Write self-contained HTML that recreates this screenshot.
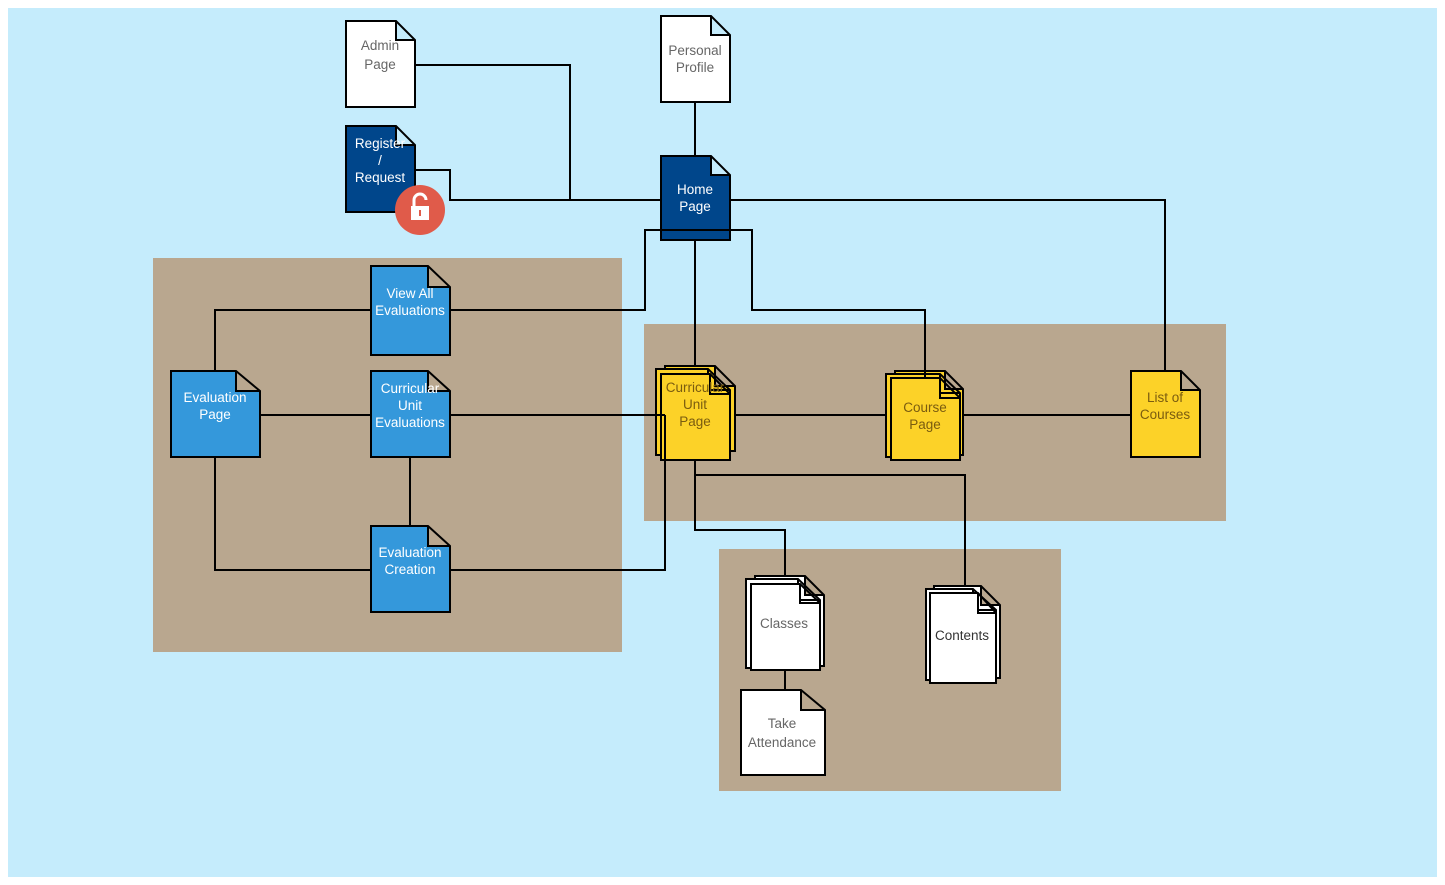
<!DOCTYPE html>
<html><head><style>body{margin:0;background:#fff}svg{display:block}text{font-family:"Liberation Sans",sans-serif;font-size:13.5px;text-anchor:middle}</style></head>
<body>
<svg width="1445" height="885" viewBox="0 0 1445 885" xmlns="http://www.w3.org/2000/svg">
<rect x="8" y="8" width="1429" height="869" fill="#c5ecfc"/>
<rect x="153" y="258" width="469" height="394" fill="#b9a78f"/>
<rect x="644" y="324" width="582" height="197" fill="#b9a78f"/>
<rect x="719" y="549" width="342" height="242" fill="#b9a78f"/>
<g fill="none" stroke="#000" stroke-width="2">
<polyline points="415,65 570,65 570,200"/>
<polyline points="415,170 450,170 450,200 661,200"/>
<line x1="695" y1="100" x2="695" y2="156"/>
<polyline points="730,200 1165,200 1165,371"/>
<polyline points="645,230 645,310 450,310"/>
<polyline points="752,230 752,310 925,310 925,371"/>
<line x1="695" y1="240" x2="695" y2="366"/>
<polyline points="371,310 215,310 215,371"/>
<line x1="260" y1="415" x2="371" y2="415"/>
<line x1="450" y1="415" x2="665" y2="415"/>
<line x1="730" y1="415" x2="886" y2="415"/>
<line x1="960" y1="415" x2="1131" y2="415"/>
<line x1="410" y1="457" x2="410" y2="526"/>
<polyline points="215,457 215,570 371,570"/>
<polyline points="450,570 665,570 665,415"/>
<polyline points="695,460 695,530 785,530 785,576"/>
<polyline points="695,475 965,475 965,587"/>
<line x1="785" y1="670" x2="785" y2="690"/>
</g>
<g stroke="#000" stroke-width="2">
<path d="M346,21H396L415,40V107H346Z M396,21V40H415" fill="#fff"/>
<path d="M661,16H711L730,35V102H661Z M711,16V35H730" fill="#fff"/>
<path d="M346,126H396L415,145V212H346Z M396,126V145H415" fill="#00468b"/>
<path d="M661,156H711L730,175V240H661Z M711,156V175H730" fill="#00468b"/>
<path d="M371,266H428L450,287V355H371Z M428,266V287H450" fill="#3498db"/>
<path d="M171,371H236L260,391V457H171Z M236,371V391H260" fill="#3498db"/>
<path d="M371,371H428L450,391V457H371Z M428,371V391H450" fill="#3498db"/>
<path d="M371,526H428L450,546V612H371Z M428,526V546H450" fill="#3498db"/>
<path d="M665,366H715L735,386V451H665Z M715,366V386H735" fill="#fcd228"/>
<path d="M656,369H708L730,390V455H656Z M708,369V390H730" fill="#fcd228"/>
<path d="M661,374H710L730,394V460H661Z M710,374V394H730" fill="#fcd228"/>
<path d="M895,371H945L963,389V455H895Z M945,371V389H963" fill="#fcd228"/>
<path d="M886,374H940L960,393V457H886Z M940,374V393H960" fill="#fcd228"/>
<path d="M891,378H940L960,398V460H891Z M940,378V398H960" fill="#fcd228"/>
<path d="M1131,371H1181L1200,390V457H1131Z M1181,371V390H1200" fill="#fcd228"/>
<path d="M755,576H805L824,595V666H755Z M805,576V595H824" fill="#fff"/>
<path d="M746,579H798L820,600V668H746Z M798,579V600H820" fill="#fff"/>
<path d="M751,584H800L820,603V670H751Z M800,584V603H820" fill="#fff"/>
<path d="M934,586H981L1000,605V678H934Z M981,586V605H1000" fill="#fff"/>
<path d="M926,589H973L996,610V680H926Z M973,589V610H996" fill="#fff"/>
<path d="M930,593H978L996,613V683H930Z M978,593V613H996" fill="#fff"/>
<path d="M741,690H801L825,710V775H741Z M801,690V710H825" fill="#fff"/>
</g>
<g fill="none" stroke="#000" stroke-width="2">
<line x1="644" y1="230" x2="753" y2="230"/>
<line x1="656" y1="415" x2="665" y2="415"/>
<line x1="665" y1="415" x2="665" y2="460"/>
<line x1="695" y1="460" x2="695" y2="475"/>
<line x1="925" y1="371" x2="925" y2="378"/>
</g>
<circle cx="420" cy="210" r="25" fill="#e05b4a"/>
<rect x="411" y="206" width="18" height="14" fill="#fff"/>
<path d="M414,206V200a6,6 0 0 1 12,0" fill="none" stroke="#fff" stroke-width="3"/>
<rect x="419" y="210" width="2" height="6" fill="#e05b4a"/>
<g fill="#666">
<text x="380" y="50">Admin</text><text x="380" y="69">Page</text>
<text x="695" y="55">Personal</text><text x="695" y="72">Profile</text>
<text x="784" y="628">Classes</text>
<text x="782" y="728">Take</text><text x="782" y="747">Attendance</text>
</g>
<text x="962" y="640" fill="#333">Contents</text>
<g fill="#fff">
<text x="380" y="148">Register</text><text x="380" y="165">/</text><text x="380" y="182">Request</text>
<text x="695" y="194">Home</text><text x="695" y="211">Page</text>
<text x="410" y="298">View All</text><text x="410" y="315">Evaluations</text>
<text x="215" y="402">Evaluation</text><text x="215" y="419">Page</text>
<text x="410" y="393">Curricular</text><text x="410" y="410">Unit</text><text x="410" y="427">Evaluations</text>
<text x="410" y="557">Evaluation</text><text x="410" y="574">Creation</text>
</g>
<g fill="#7a5c10">
<text x="695" y="392">Curricular</text><text x="695" y="409">Unit</text><text x="695" y="426">Page</text>
<text x="925" y="412">Course</text><text x="925" y="429">Page</text>
<text x="1165" y="402">List of</text><text x="1165" y="419">Courses</text>
</g>
</svg>
</body></html>
